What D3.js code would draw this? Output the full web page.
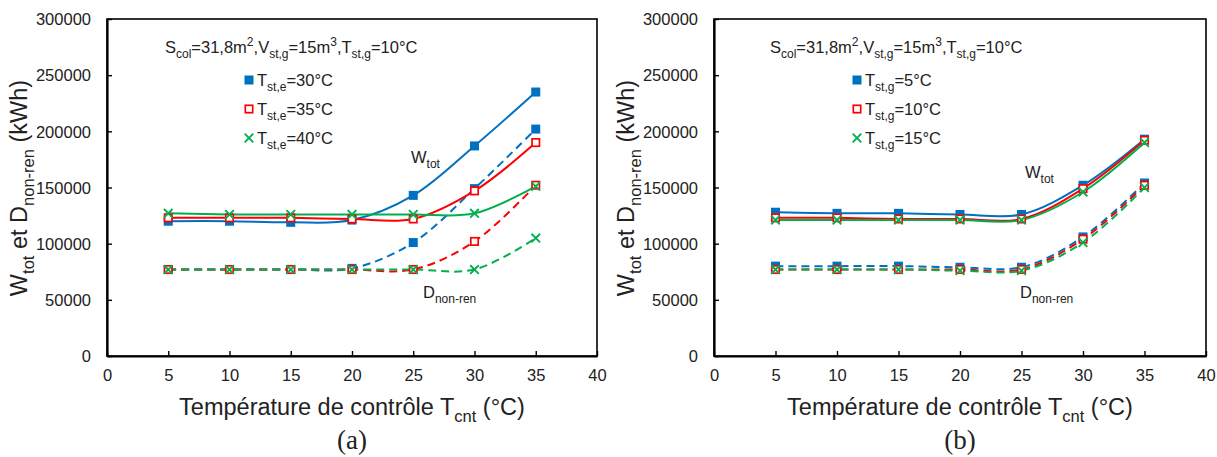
<!DOCTYPE html>
<html><head><meta charset="utf-8">
<script src="https://cdn.jsdelivr.net/npm/d3@7"></script>
<style>body{margin:0;background:#fff}svg{display:block}text{fill:#222}</style>
</head><body><svg id="c" width="1217" height="457" font-family="'Liberation Sans',Arial,sans-serif"></svg>
<script>
const tcnt = [5,10,15,20,25,30,35];
const xTicks = [0,5,10,15,20,25,30,35,40];
const yTicks = [0,50000,100000,150000,200000,250000,300000];

// Panel (a): T_st,e = 30, 35, 40 °C
const aW30 = [120000,120000,119000,121000,143000,187000,235000];
const aD30 = [77000,77000,77000,78000,101000,149000,202000];
const aW35 = [123000,123000,123000,122000,122000,147000,190000];
const aD35 = [77000,77000,77000,77000,77000,102000,152000];
const aW40 = [127000,126000,126000,126000,126000,127000,151000];
const aD40 = [77000,77000,77000,77000,77000,77000,105000];
const aLegend = ["30°C","35°C","40°C"];

// Panel (b): T_st,g = 5, 10, 15 °C
const bW5  = [128000,127000,127000,126000,126000,152000,193000];
const bD5  = [80000,80000,80000,79000,79000,106000,154000];
const bW10 = [123000,123000,122000,122000,122000,149000,192000];
const bD10 = [77000,77000,77000,77000,77000,104000,152000];
const bW15 = [121000,121000,121000,121000,121000,146000,190000];
const bD15 = [77000,77000,77000,76000,76000,101000,150000];
const bLegend = ["5°C","10°C","15°C"];

const colors = ["#0070C0","#FF0000","#00B050"];
const markers = ["filled","hollow","cross"];

const svg = d3.select("#c");

function richText(g, x, y, parts, size, subSize, anchor){
  const t = g.append("text").attr("x",x).attr("y",y).attr("font-size",size).attr("text-anchor",anchor||"start");
  let state = 0;
  const amt = {1:0.3*size, "-1":-0.4*size, 0:0};
  parts.forEach(p=>{
    const ts = t.append("tspan").text(p[0]);
    const target = p[1]==="sub"?1:(p[1]==="sup"?-1:0);
    const shift = amt[target] - amt[state];
    if(shift!==0) ts.attr("dy", shift);
    if(target!==0) ts.attr("font-size", subSize);
    state = target;
  });
  return t;
}

function drawMarker(g, kind, color, x, y){
  const s = 9;
  if(kind==="filled"){
    g.append("rect").attr("x",x-s/2).attr("y",y-s/2).attr("width",s).attr("height",s).attr("fill",color);
  } else if(kind==="hollow"){
    g.append("rect").attr("x",x-s/2+0.8).attr("y",y-s/2+0.8).attr("width",s-1.6).attr("height",s-1.6).attr("fill","#fff").attr("stroke",color).attr("stroke-width",1.7);
  } else {
    const h = 4.3;
    g.append("path").attr("d",`M${x-h},${y-h}L${x+h},${y+h}M${x-h},${y+h}L${x+h},${y-h}`).attr("stroke",color).attr("stroke-width",1.9).attr("fill","none");
  }
}

function panel(cfg){
  const x = d3.scaleLinear().domain([0,40]).range([cfg.left, cfg.right]);
  const y = d3.scaleLinear().domain([0,300000]).range([356,19]);
  const g = svg.append("g");
  g.append("rect").attr("x",cfg.left).attr("y",19).attr("width",cfg.right-cfg.left).attr("height",337).attr("fill","none").attr("stroke","#000").attr("stroke-width",1.6);
  const xa = g.append("g").attr("transform",`translate(0,356)`).call(d3.axisBottom(x).tickValues(xTicks).tickSizeInner(-5).tickSizeOuter(0).tickPadding(20));
  const ya = g.append("g").attr("transform",`translate(${cfg.left},0)`).call(d3.axisLeft(y).tickValues(yTicks).tickSizeInner(-5).tickSizeOuter(0).tickPadding(16).tickFormat(d3.format("d")));
  [xa,ya].forEach(a=>{
    a.attr("font-family",null).attr("font-size",null);
    a.select(".domain").attr("stroke","#000").attr("stroke-width",2.2);
    a.selectAll(".tick line").attr("stroke","#000").attr("stroke-width",1.4);
    a.selectAll(".tick text").attr("font-size",16.5).attr("fill","#222");
  });
  xa.selectAll(".tick text").attr("dy","0.3em");
  ya.selectAll(".tick text").attr("dy","0.35em");

  const line = d3.line().x((d,i)=>x(tcnt[i])).y(d=>y(d)).curve(d3.curveCatmullRom.alpha(0.5));
  cfg.series.forEach((s,k)=>{
    g.append("path").datum(s.D).attr("d",line).attr("fill","none").attr("stroke",colors[k]).attr("stroke-width",2).attr("stroke-dasharray","8,5");
  });
  cfg.series.forEach((s,k)=>{
    g.append("path").datum(s.W).attr("d",line).attr("fill","none").attr("stroke",colors[k]).attr("stroke-width",2);
  });
  cfg.series.forEach((s,k)=>{
    s.W.forEach((v,i)=>drawMarker(g,markers[k],colors[k],x(tcnt[i]),y(v)));
    s.D.forEach((v,i)=>drawMarker(g,markers[k],colors[k],x(tcnt[i]),y(v)));
  });

  richText(g, cfg.annX, 53, [["S"],["col","sub"],["=31,8m"],["2","sup"],[",V"],["st,g","sub"],["=15m"],["3","sup"],[",T"],["st,g","sub"],["=10°C"]], 16.5, 12);
  cfg.legend.forEach((l,k)=>{
    const ly = 80 + k*29;
    drawMarker(g, markers[k], colors[k], cfg.legX, ly);
    richText(g, cfg.legX+8, ly+6, [["T"],[cfg.legSub,"sub"],["="+l]], 16.5, 12);
  });
  richText(g, cfg.wX, cfg.wY, [["W"],["tot","sub"]], 16.5, 12);
  richText(g, cfg.dX, cfg.dY, [["D"],["non-ren","sub"]], 16.5, 12);

  const cx = (cfg.left+cfg.right)/2;
  richText(g, cx, 415, [["Température de contrôle T"],["cnt","sub"],[" (°C)"]], 23.5, 16.5, "middle");
  g.append("text").attr("x",cx).attr("y",449).attr("text-anchor","middle").attr("font-size",27).style("font-family","'Liberation Serif','DejaVu Serif',serif").attr("fill","#000").text(cfg.tag);
  const yt = richText(g, 0, 0, [["W"],["tot","sub"],[" et D"],["non-ren","sub"],[" (kWh)"]], 23.5, 16.5, "middle");
  yt.attr("transform",`translate(${cfg.left-80},188) rotate(-90)`);
}

panel({left:107,right:597,tag:"(a)",annX:165,legX:249,legSub:"st,e",wX:411,wY:163,dX:423,dY:298,
  legend:aLegend,
  series:[{W:aW30,D:aD30},{W:aW35,D:aD35},{W:aW40,D:aD40}]});
panel({left:714,right:1206,tag:"(b)",annX:770,legX:857,legSub:"st,g",wX:1025,wY:178,dX:1020,dY:298,
  legend:bLegend,
  series:[{W:bW5,D:bD5},{W:bW10,D:bD10},{W:bW15,D:bD15}]});
</script></body></html>
